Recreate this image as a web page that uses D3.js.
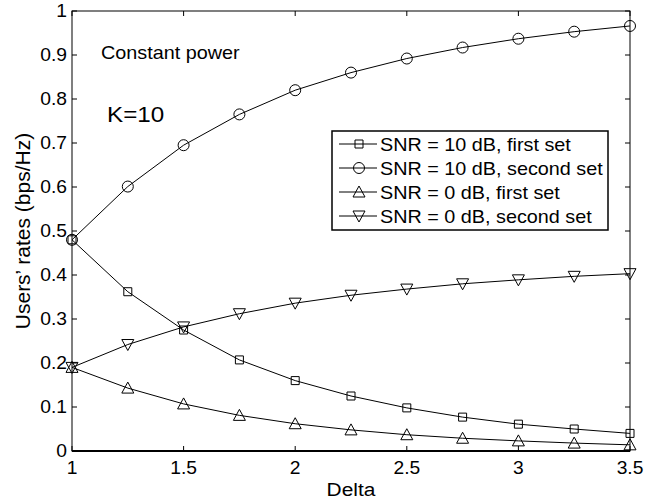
<!DOCTYPE html>
<html>
<head>
<meta charset="utf-8">
<script src="https://cdn.jsdelivr.net/npm/d3@7"></script>
<style>
  body { margin: 0; background: #fff; }
  text { font-family: "Liberation Sans", Arial, Helvetica, sans-serif; fill: #000; }
</style>
</head>
<body>
<script>
var deltas = [1, 1.25, 1.5, 1.75, 2, 2.25, 2.5, 2.75, 3, 3.25, 3.5];
var snr10First = [0.48, 0.362, 0.275, 0.207, 0.160, 0.125, 0.098, 0.077, 0.061, 0.050, 0.040];
var snr10Second = [0.48, 0.601, 0.695, 0.765, 0.820, 0.860, 0.892, 0.917, 0.937, 0.953, 0.966];
var snr0First = [0.19, 0.143, 0.107, 0.081, 0.062, 0.048, 0.037, 0.029, 0.023, 0.018, 0.014];
var snr0Second = [0.19, 0.242, 0.282, 0.312, 0.336, 0.354, 0.368, 0.380, 0.389, 0.397, 0.403];
var seriesNames = ["SNR = 10 dB, first set", "SNR = 10 dB, second set", "SNR = 0 dB, first set", "SNR = 0 dB, second set"];
var xTicks = [1, 1.5, 2, 2.5, 3, 3.5];
var yTicks = [0, 0.1, 0.2, 0.3, 0.4, 0.5, 0.6, 0.7, 0.8, 0.9, 1];

var margin = { top: 11, right: 37, bottom: 53, left: 72 },
    width = 667 - margin.left - margin.right,
    height = 504 - margin.top - margin.bottom;

// the source figure is a little wider than tall, text looks stretched
var sx = 1.1;

var svg = d3.select("body")
    .append("svg")
    .attr("width", 667)
    .attr("height", 504);

var g = svg.append("g")
    .attr("transform", "translate(" + margin.left + "," + margin.top + ")");

var x = d3.scaleLinear().domain([1, 3.5]).range([0, width]);
var y = d3.scaleLinear().domain([0, 1]).range([height, 0]);

function label(sel, px, py, size, anchor, str) {
    return sel.append("text")
        .attr("transform", "translate(" + px + "," + py + ") scale(" + sx + ",1)")
        .attr("text-anchor", anchor)
        .style("font-size", size + "px")
        .text(str);
}

// box + inward ticks like matlab
g.append("rect")
    .attr("width", width).attr("height", height)
    .attr("fill", "none").attr("stroke", "#000").attr("stroke-width", 1);
g.append("line")
    .attr("x1", 0).attr("x2", width).attr("y1", height).attr("y2", height)
    .attr("stroke", "#000").attr("stroke-width", 2);

var tl = 5;
g.selectAll(".xt").data(xTicks).enter().append("path")
    .attr("d", function (d) {
        return "M" + x(d) + "," + height + "v" + (-tl) + "M" + x(d) + ",0v" + tl;
    })
    .attr("stroke", "#000");
g.selectAll(".yt").data(yTicks).enter().append("path")
    .attr("d", function (d) {
        return "M0," + y(d) + "h" + tl + "M" + width + "," + y(d) + "h" + (-tl);
    })
    .attr("stroke", "#000");

xTicks.forEach(function (d) { label(g, x(d), height + 23, 17.5, "middle", d); });
yTicks.forEach(function (d) { label(g, -5, y(d) + 6, 17.5, "end", d); });

label(g, width / 2, height + 45, 19, "middle", "Delta");
g.append("text")
    .attr("transform", "translate(-42," + (height / 2) + ") rotate(-90)")
    .attr("text-anchor", "middle")
    .style("font-size", "21px")
    .text("Users\u2019 rates (bps/Hz)");

label(g, 29, 48, 18, "start", "Constant power");
label(g, 35, 111, 22, "start", "K=10");

// markers
var sym = {
    square: function () { var h = 4; return "M" + (-h) + "," + (-h) + "h" + 2 * h + "v" + 2 * h + "h" + (-2 * h) + "Z"; },
    circle: function () { var r = 5.5; return "M" + r + ",0A" + r + "," + r + " 0 1,1 " + (-r) + ",0A" + r + "," + r + " 0 1,1 " + r + ",0Z"; },
    up: function () { return "M0,-6L6,5L-6,5Z"; },
    down: function () { return "M0,6L6,-5L-6,-5Z"; }
};
var series = [
    { name: seriesNames[0], values: snr10First, mark: "square" },
    { name: seriesNames[1], values: snr10Second, mark: "circle" },
    { name: seriesNames[2], values: snr0First, mark: "up" },
    { name: seriesNames[3], values: snr0Second, mark: "down" }
];

var line = d3.line()
    .x(function (d, i) { return x(deltas[i]); })
    .y(function (d) { return y(d); });

var sg = g.selectAll(".series").data(series).enter().append("g");
sg.append("path")
    .attr("d", function (d) { return line(d.values); })
    .attr("fill", "none").attr("stroke", "#000").attr("stroke-width", 1);
sg.each(function (s) {
    d3.select(this).selectAll("path.m").data(s.values).enter().append("path")
        .attr("class", "m")
        .attr("transform", function (d, i) { return "translate(" + x(deltas[i]) + "," + y(d) + ")"; })
        .attr("d", sym[s.mark]())
        .attr("fill", "none").attr("stroke", "#000").attr("stroke-width", 1);
});

// legend
var lg = g.append("g").attr("transform", "translate(" + (332 - margin.left) + "," + (131 - margin.top) + ")");
lg.append("rect").attr("width", 276).attr("height", 99)
    .attr("fill", "#fff").attr("stroke", "#000").attr("stroke-width", 1.5);
var row = lg.selectAll(".row").data(series).enter().append("g")
    .attr("transform", function (d, i) { return "translate(0," + (13 + i * 24) + ")"; });
row.append("line").attr("x1", 7).attr("x2", 45).attr("stroke", "#000");
row.append("path")
    .attr("transform", "translate(27,0)")
    .attr("d", function (d) { return sym[d.mark](); })
    .attr("fill", "none").attr("stroke", "#000");
row.each(function (d) { label(d3.select(this), 48, 6.5, 18, "start", d.name); });
</script>
</body>
</html>
